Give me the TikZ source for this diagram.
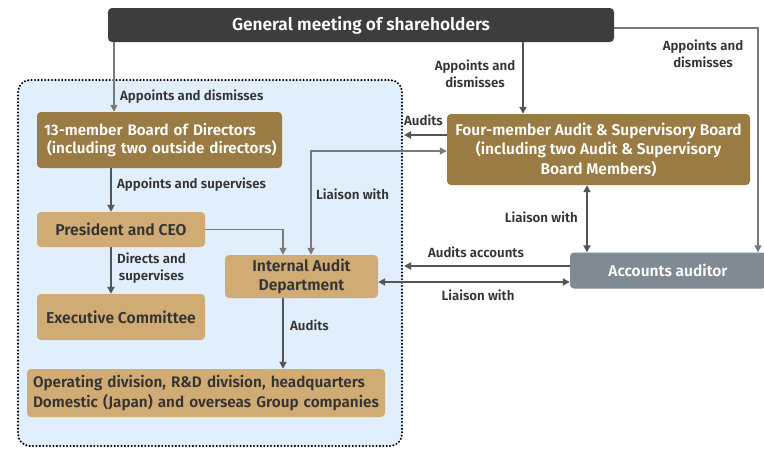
\documentclass[tikz,border=0pt]{standalone}
\usepackage{fontspec}
\setmainfont{Fira Sans}[BoldFont={Fira Sans SemiBold}]
\usetikzlibrary{arrows.meta,calc}
\definecolor{darkbox}{HTML}{3D3D3D}
\definecolor{brownbox}{HTML}{9A7B43}
\definecolor{tanbox}{HTML}{D0AB74}
\definecolor{greybox}{HTML}{7F8A92}
\definecolor{regionfill}{HTML}{E0EFFB}
\definecolor{arrowdark}{HTML}{555555}
\definecolor{linegrey}{HTML}{7A7A7A}
\definecolor{textdark}{HTML}{333333}
\tikzset{
  box/.style={rectangle, rounded corners=4pt, inner sep=0pt, font=\bfseries},
  darkstyle/.style={box, fill=darkbox, text=white, font=\bfseries\fontsize{17.3}{20}\selectfont},
  brownstyle/.style={box, fill=brownbox, text=white, font=\bfseries\fontsize{15.2}{18.5}\selectfont},
  tanstyle/.style={box, fill=tanbox, text=textdark, font=\bfseries\fontsize{15.7}{19.5}\selectfont},
  greystyle/.style={box, fill=greybox, text=white, font=\bfseries\fontsize{15.5}{18}\selectfont},
  lbl/.style={inner sep=0pt, text=textdark, font=\bfseries\fontsize{13.3}{17}\selectfont, align=center},
  darrow/.style={draw=arrowdark, line width=2pt, -{Triangle[length=7pt,width=7pt]}},
  darrowboth/.style={draw=arrowdark, line width=2pt, {Triangle[length=7pt,width=7pt]}-{Triangle[length=7pt,width=7pt]}},
  garrow/.style={draw=linegrey, line width=1.3pt, -{Triangle[length=7pt,width=7pt]}},
  garrowboth/.style={draw=linegrey, line width=1.3pt, {Triangle[length=7pt,width=7pt]}-{Triangle[length=7pt,width=7pt]}},
}
\begin{document}
\begin{tikzpicture}[x=1pt,y=-1pt]
\useasboundingbox (0,0) rectangle (764,450);

% company region
\draw[fill=regionfill, draw=black, line width=2.3pt, dash pattern=on 0pt off 3.4pt, line cap=round, rounded corners=12pt]
  (18,80) rectangle (402,446);

% boxes
\node[darkstyle, minimum width=506, minimum height=34] (sh) at (361,25) {General meeting of shareholders};
\node[brownstyle, minimum width=245, minimum height=56, text width=231, align=left] (bod) at (159.5,140)
  {\mbox{13-member Board of Directors}\\\mbox{\hspace*{3pt}(including two outside directors)}};
\node[tanstyle, minimum width=168, minimum height=35] (ceo) at (121,229.5) {President and CEO};
\node[tanstyle, minimum width=168, minimum height=46] (exec) at (121,317) {Executive Committee};
\node[tanstyle, minimum width=153, minimum height=43, align=center] (iad) at (301.5,276.5) {Internal Audit\\Department};
\node[tanstyle, minimum width=358, minimum height=48, text width=346, align=left, font=\bfseries\fontsize{15.3}{19.5}\selectfont] (ops) at (206,393)
  {\mbox{Operating division, R\&D division, headquarters}\\\mbox{Domestic (Japan) and overseas Group companies}};
\node[brownstyle, minimum width=303, minimum height=71, align=center, font=\bfseries\fontsize{15.5}{19.5}\selectfont] (asb) at (598.5,149.5)
  {Four-member Audit \& Supervisory Board\\(including two Audit \& Supervisory\\Board Members)};
\node[greystyle, minimum width=196, minimum height=36] (aud) at (668,270.5) {Accounts auditor};

% helper coordinates for vertical and horizontal runs
\coordinate (xa) at (114,0);
\coordinate (xb) at (111,0);
\coordinate (xc) at (283,0);
\coordinate (xd) at (311,0);
\coordinate (xe) at (523,0);
\coordinate (xf) at (758,0);
\coordinate (xg) at (587,0);
\coordinate (ya) at (0,135);
\coordinate (yb) at (0,151);
\coordinate (yc) at (0,266);
\coordinate (yd) at (0,282);
\coordinate (ye) at (0,28);
\coordinate (region) at (404,0);

% connectors
\draw[garrow] (sh.south -| xa) -- (bod.north -| xa);
\draw[darrow] (bod.south -| xb) -- (ceo.north -| xb);
\draw[darrow] (ceo.south -| xb) -- (exec.north -| xb);
\draw[garrow] (ceo.east) -| (iad.north -| xc);
\draw[garrowboth] (asb.west |- yb) -| (iad.north -| xd);
\draw[darrow] (asb.west |- ya) -- (region |- ya);
\draw[darrow] (iad.south -| xc) -- (ops.north -| xc);
\draw[darrow] (sh.south -| xe) -- (asb.north -| xe);
\draw[garrow] (sh.east |- ye) -| (aud.north -| xf);
\draw[darrowboth] (asb.south -| xg) -- (aud.north -| xg);
\draw[darrow] (aud.west |- yc) -- (region |- yc);
\draw[darrowboth] (iad.east |- yd) -- (aud.west |- yd);

% labels
\node[lbl, anchor=west] (l1) at (120,97) {Appoints and dismisses};
\node[lbl, anchor=west] (l2) at (117,185) {Appoints and supervises};
\node[lbl, anchor=west] (l3) at (117,268.5) {Directs and\\supervises};
\node[lbl, anchor=west] (l4) at (316,194) {Liaison with};
\node[lbl, anchor=west] (l5) at (404,120) {Audits};
\node[lbl] (l6) at (475,73.5) {Appoints and\\dismisses};
\node[lbl] (l7) at (703,53.5) {Appoints and\\dismisses};
\node[lbl, anchor=east] (l8) at (578,217) {Liaison with};
\node[lbl] (l9) at (476,252) {Audits accounts};
\node[lbl] (l10) at (478,295) {Liaison with};
\node[lbl, anchor=west] (l11) at (290,325) {Audits};
\end{tikzpicture}
\end{document}
